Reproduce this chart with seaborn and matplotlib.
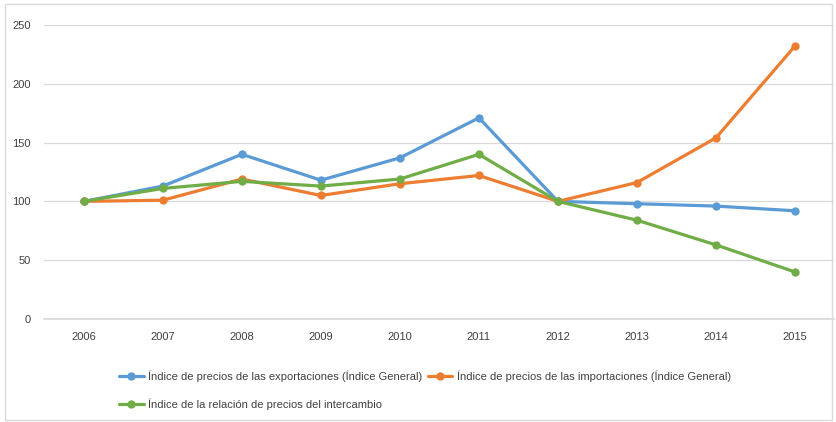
import pandas as pd
import seaborn as sns
import matplotlib.pyplot as plt
from matplotlib.patches import Rectangle

years = ["2006", "2007", "2008", "2009", "2010", "2011", "2012", "2013", "2014", "2015"]
exportaciones = [100, 113, 140, 118, 137, 171, 100, 98, 96, 92]
importaciones = [100, 101, 119, 105, 115, 122, 100, 116, 154, 232]
intercambio = [100, 111, 117, 113, 119, 140, 100, 84, 63, 40]

series_names = [
    "Índice de precios de las exportaciones (Índice General)",
    "Índice de precios de las importaciones (Índice General)",
    "Índice de la relación de precios del intercambio",
]
colors = ["#5B9BD5", "#ED7D31", "#70AD47"]

df = pd.DataFrame({
    "Año": years * 3,
    "Valor": exportaciones + importaciones + intercambio,
    "Serie": [series_names[0]] * 10 + [series_names[1]] * 10 + [series_names[2]] * 10,
})

sns.set_theme(style="white")
plt.rcParams["font.family"] = ["Liberation Sans Narrow", "Liberation Sans", "DejaVu Sans"]

fig = plt.figure(figsize=(8.37, 4.22), dpi=100)
ax = fig.add_axes([0.053, 0.244, 0.944, 0.697])

sns.lineplot(data=df, x="Año", y="Valor", hue="Serie", palette=colors,
             marker="o", markersize=6, markeredgewidth=0, linewidth=2.3,
             sort=False, ax=ax)

ax.set_xlim(-0.5, 9.5)
ax.set_ylim(0, 250)
ax.set_yticks([0, 50, 100, 150, 200, 250])
ax.yaxis.grid(True, color="#D9D9D9", linewidth=0.9)
ax.set_axisbelow(True)
for s in ["top", "left", "right"]:
    ax.spines[s].set_visible(False)
ax.spines["bottom"].set_color("#D9D9D9")
ax.tick_params(axis="both", length=0, labelsize=8, colors="#404040")
ax.tick_params(axis="y", pad=10)
ax.tick_params(axis="x", pad=9)
ax.set_xlabel("")
ax.set_ylabel("")

handles, labels = ax.get_legend_handles_labels()
order = [0, 2, 1]
ax.legend([handles[i] for i in order], [labels[i] for i in order],
          loc="upper left", bbox_to_anchor=(0.082, -0.14), ncol=2, frameon=False,
          fontsize=8, handlelength=2.2, handletextpad=0.4, columnspacing=0.5,
          labelspacing=1.5, labelcolor="#404040")

fig.patches.append(Rectangle((0.006, 0.005), 0.988, 0.985, transform=fig.transFigure,
                             fill=False, edgecolor="#D9D9D9", linewidth=1.0))

fig.savefig("out.png", dpi=100)
